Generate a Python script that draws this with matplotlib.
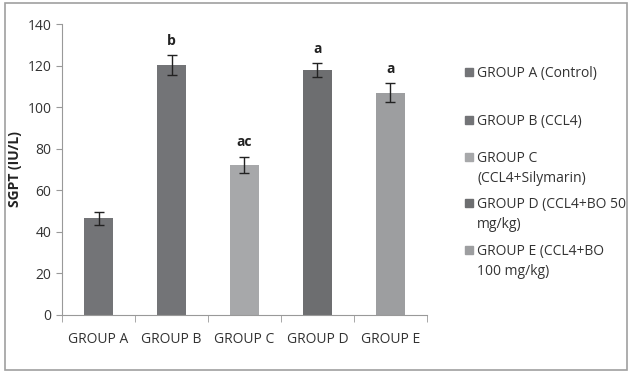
import matplotlib.pyplot as plt
from matplotlib.patches import Rectangle

groups = ['GROUP A', 'GROUP B', 'GROUP C', 'GROUP D', 'GROUP E']
legend_labels = ['GROUP A (Control)', 'GROUP B (CCL4)', 'GROUP C\n(CCL4+Silymarin)',
                 'GROUP D (CCL4+BO 50\nmg/kg)', 'GROUP E (CCL4+BO\n100 mg/kg)']
sgpt = [46.5, 120.3, 72.2, 117.8, 107.0]
sgpt_err = [3.0, 4.8, 4.0, 3.5, 4.5]
letters = ['', 'b', 'ac', 'a', 'a']
colors = ['#737477', '#737477', '#a7a8aa', '#6d6e70', '#9d9ea0']

plt.rcParams['font.family'] = ['Open Sans', 'DejaVu Sans']

W, H = 632, 372
fig = plt.figure(figsize=(W / 100, H / 100), dpi=100)
fig.patches.append(Rectangle((5 / W, 1 - 370 / H), 622 / W, 367 / H,
                             transform=fig.transFigure, fill=False,
                             edgecolor='#a0a0a0', linewidth=1.2))

ax = fig.add_axes([62 / W, 1 - 315 / H, 365 / W, 291 / H])
x = range(len(groups))
ax.bar(x, sgpt, width=0.4, color=colors, yerr=sgpt_err, capsize=3.5,
       error_kw=dict(ecolor='#222222', elinewidth=1.0, capthick=1.0))
for i, (v, e, t) in enumerate(zip(sgpt, sgpt_err, letters)):
    if t:
        ax.text(i, v + e + 3.5, t, ha='center', va='bottom', fontsize=10,
                fontweight='bold', color='#222222')

ax.set_xlim(-0.5, 4.5)
ax.set_ylim(0, 140)
ax.set_yticks(range(0, 141, 20))
ax.set_xticks(x)
ax.set_xticklabels(groups, fontsize=10, color='#333333')
ax.set_xticks([i - 0.5 for i in range(6)], minor=True)
ax.tick_params(axis='x', which='major', length=0, pad=12)
ax.tick_params(axis='x', which='minor', length=5, color='#999999', direction='out')
ax.tick_params(axis='y', labelsize=10, labelcolor='#333333', length=4,
               color='#999999', direction='out')
for s in ['top', 'right']:
    ax.spines[s].set_visible(False)
for s in ['left', 'bottom']:
    ax.spines[s].set_color('#999999')
ax.set_ylabel('SGPT (IU/L)', fontsize=10, fontweight='bold', color='#222222', labelpad=4)

# legend drawn by hand to match the uneven entry spacing
legend_y = [72, 120, 157, 203, 250]
for lab, c, yy in zip(legend_labels, colors, legend_y):
    fig.patches.append(Rectangle((465 / W, 1 - (yy + 4) / H), 8 / W, 8 / H,
                                 transform=fig.transFigure, color=c))
    fig.text(477 / W, 1 - (yy - 6) / H, lab, fontsize=10, color='#333333',
             va='top', ha='left', linespacing=1.45)

fig.savefig('out.png', dpi=100)
